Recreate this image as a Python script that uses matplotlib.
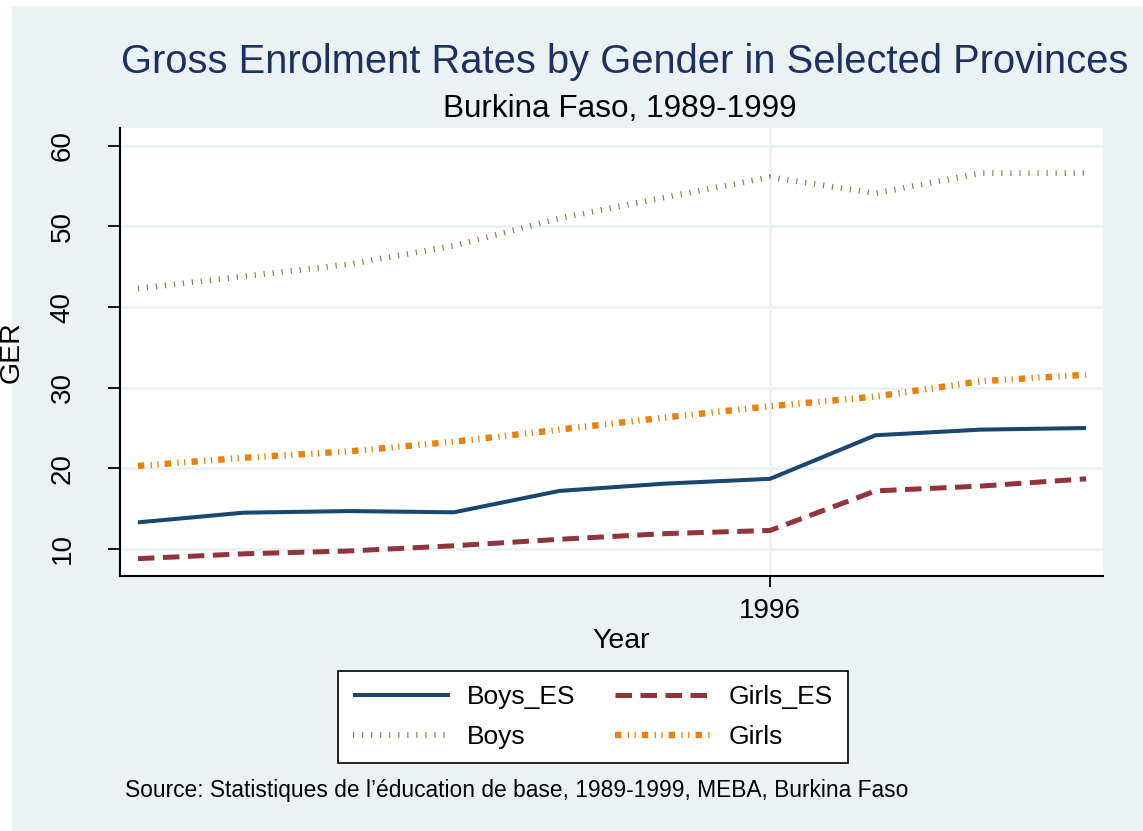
import numpy as np
import matplotlib.pyplot as plt
from matplotlib.patches import Rectangle

plt.rcParams['font.family'] = ['Liberation Sans', 'DejaVu Sans']

years = [1990, 1991, 1992, 1993, 1994, 1995, 1996, 1997, 1998, 1999]
boys_es = [13.3, 14.5, 14.7, 14.55, 17.2, 18.1, 18.7, 24.1, 24.8, 25.0]
girls_es = [8.8, 9.4, 9.75, 10.4, 11.2, 11.9, 12.3, 17.2, 17.8, 18.7]
boys = [42.3, 43.8, 45.3, 47.6, 51.0, 53.6, 56.1, 54.1, 56.6, 56.6]
girls = [20.3, 21.3, 22.1, 23.3, 24.8, 26.3, 27.7, 28.9, 30.8, 31.6]
y_ticks = [10, 20, 30, 40, 50, 60]
x_ticks = [1996]

bg = '#EAF2F3'
W, H = 1143, 831

fig = plt.figure(figsize=(W / 100, H / 100), dpi=100)
fig.patch.set_facecolor(bg)
# thin white border on top and left, as in the exported graph
for r in [(0, 1 - 6 / H, 1, 6 / H), (0, 0, 12 / W, 1)]:
    fig.patches.append(Rectangle(r[:2], r[2], r[3], transform=fig.transFigure,
                                 facecolor='white', edgecolor='none'))

ax = fig.add_axes([120 / W, (H - 576) / H, (1103 - 120) / W, (576 - 128) / H])
ax.set_facecolor('white')

ax.plot(years, boys_es, color='#1A476F', lw=2.9, solid_capstyle='butt',
        label='Boys_ES', zorder=3)
ax.plot(years, girls_es, color='#90353B', lw=3.6, dashes=(3.3, 1.7),
        dash_capstyle='butt', label='Girls_ES', zorder=3)
ax.plot(years, boys, color='#6E8F4A', lw=4.2, dashes=(0.2, 1.35),
        dash_capstyle='butt', label='Boys', zorder=3)
ax.plot(years, girls, color='#E8820C', lw=4.6, dashes=(1.0, 1.0, 0.2, 0.85, 0.2, 0.95),
        dash_capstyle='butt', label='Girls', zorder=3)

ax.set_xlim(1989.83, 1999.16)
ax.set_ylim(6.65, 62.2)
ax.set_yticks(y_ticks)
ax.set_xticks(x_ticks)
ax.grid(True, color=bg, lw=2)
ax.set_axisbelow(True)

for s in ['top', 'right']:
    ax.spines[s].set_visible(False)
for s in ['left', 'bottom']:
    ax.spines[s].set_linewidth(1.5)
ax.tick_params(axis='y', length=8.5, width=1.3, labelsize=20, pad=23.5)
ax.tick_params(axis='x', length=8, width=1.3, labelsize=20, pad=8)
for lab in ax.get_yticklabels():
    lab.set_rotation(90)
    lab.set_va('center')

fig.text(12 / W, 1 - 352 / H, 'GER', rotation=90, ha='center', va='center', fontsize=20.5)
fig.text(621 / W, 1 - 648 / H, 'Year', ha='center', va='baseline', fontsize=20.5)

fig.text(625 / W, 1 - 73 / H, 'Gross Enrolment Rates by Gender in Selected Provinces',
         ha='center', va='baseline', fontsize=28.7, color='#1C3160')
fig.text(620 / W, 1 - 117 / H, 'Burkina Faso, 1989-1999',
         ha='center', va='baseline', fontsize=22.7, color='black')

h, l = ax.get_legend_handles_labels()
order = [0, 2, 1, 3]
leg = fig.legend([h[i] for i in order], [l[i] for i in order], ncol=2,
                 loc='center', bbox_to_anchor=(593 / W, 1 - 717 / H),
                 fontsize=19, handlelength=3.67, columnspacing=1.5,
                 frameon=True, fancybox=False, edgecolor='black',
                 facecolor='white', framealpha=1,
                 borderpad=0.55, labelspacing=0.6, handletextpad=0.65)
leg.get_frame().set_linewidth(1.2)

fig.text(125 / W, 1 - 797 / H,
         'Source: Statistiques de l\u2019éducation de base, 1989-1999, MEBA, Burkina Faso',
         ha='left', va='baseline', fontsize=16.4,
         family=['Liberation Sans Narrow', 'Liberation Sans'])

fig.savefig('out.png', dpi=100, facecolor=fig.get_facecolor())
